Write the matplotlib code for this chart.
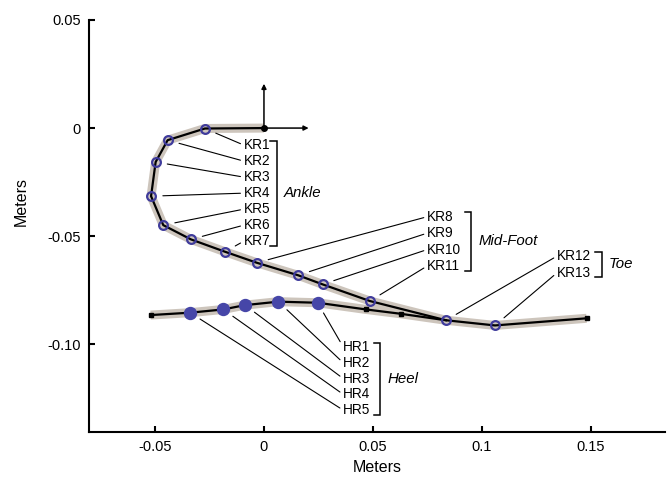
import matplotlib
matplotlib.use('Agg')
import matplotlib.pyplot as plt
import numpy as np

plt.rcParams['font.family'] = ['Liberation Sans', 'DejaVu Sans']

# ---------------- data (meters) ----------------
kr_labels = ['KR1', 'KR2', 'KR3', 'KR4', 'KR5', 'KR6', 'KR7',
             'KR8', 'KR9', 'KR10', 'KR11', 'KR12', 'KR13']
kr_x = [-0.0271, -0.0442, -0.0497, -0.0518, -0.0462, -0.0335, -0.0179,
        -0.0033, 0.0157, 0.0269, 0.0486, 0.0835, 0.1060]
kr_y = [-0.0002, -0.0056, -0.0157, -0.0315, -0.0449, -0.0515, -0.0572,
        -0.0623, -0.0681, -0.0723, -0.0800, -0.0889, -0.0913]

hr_labels = ['HR1', 'HR2', 'HR3', 'HR4', 'HR5']
hr_x = [0.0246, 0.0066, -0.0087, -0.0187, -0.0339]
hr_y = [-0.0808, -0.0803, -0.0819, -0.0839, -0.0854]

origin_x, origin_y = 0.0, 0.0
toe_end_x, toe_end_y = 0.148, -0.0880
heel_start_x, heel_start_y = -0.0520, -0.0865
heel_mid_x = [0.0468, 0.0627]
heel_mid_y = [-0.0839, -0.0859]

groups = ['Ankle', 'Mid-Foot', 'Toe', 'Heel']
group_members = [kr_labels[0:7], kr_labels[7:11], kr_labels[11:13], hr_labels]

x_ticks = [-0.05, 0, 0.05, 0.1, 0.15]
x_ticklabels = ['-0.05', '0', '0.05', '0.1', '0.15']
y_ticks = [0.05, 0, -0.05, -0.10]
y_ticklabels = ['0.05', '0', '-0.05', '-0.10']

# ---------------- layout / style ----------------
# label column anchors (left x, first y) and row step, bracket x
label_layout = {
    'Ankle':    dict(x=-0.0092, y0=-0.0079, step=-0.0074, bx=0.0058),
    'Mid-Foot': dict(x=0.0749, y0=-0.0410, step=-0.0076, bx=0.0950),
    'Toe':      dict(x=0.1345, y0=-0.0592, step=-0.0077, bx=0.1549),
    'Heel':     dict(x=0.0364, y0=-0.1013, step=-0.0073, bx=0.0532),
}
band_color = '#cdc5bc'
marker_color = '#3f3b9c'
arrow_len = 0.0205

fig = plt.figure(figsize=(6.67, 4.78), dpi=100)
ax = fig.add_axes([0.134, 0.0962, 0.863, 0.862])

ankle_px = [origin_x] + kr_x + [toe_end_x]
ankle_py = [origin_y] + kr_y + [toe_end_y]
heel_px = [heel_start_x] + hr_x[::-1] + heel_mid_x + [kr_x[11]]
heel_py = [heel_start_y] + hr_y[::-1] + heel_mid_y + [kr_y[11]]

for px, py in [(ankle_px, ankle_py), (heel_px, heel_py)]:
    ax.plot(px, py, color=band_color, lw=6.5, solid_capstyle='butt',
            solid_joinstyle='round', zorder=1)
for px, py in [(ankle_px, ankle_py), (heel_px, heel_py)]:
    ax.plot(px, py, color='black', lw=1.6, zorder=2)

# end squares
ax.plot([heel_start_x] + heel_mid_x + [toe_end_x],
        [heel_start_y] + heel_mid_y + [toe_end_y],
        's', ms=3.2, color='black', zorder=3, linestyle='none')

# origin and axes arrows
ax.plot([origin_x], [origin_y], 'o', ms=4, color='black', zorder=3)
for dx, dy in [(0, arrow_len), (arrow_len, 0)]:
    ax.annotate('', xy=(origin_x + dx, origin_y + dy), xytext=(origin_x, origin_y),
                arrowprops=dict(arrowstyle='-|>', lw=1.1, color='black',
                                mutation_scale=7, shrinkA=0, shrinkB=0), zorder=3)

# markers
ax.plot(kr_x, kr_y, 'o', ms=6.3, mfc='none', mec=marker_color, mew=1.6, zorder=4)
ax.plot(hr_x, hr_y, 'o', ms=8.6, color='#4646a8', zorder=4)

# labels with leader lines
pts = {}
for l, x, y in zip(kr_labels, kr_x, kr_y):
    pts[l] = (x, y)
for l, x, y in zip(hr_labels, hr_x, hr_y):
    pts[l] = (x, y)

for g, members in zip(groups, group_members):
    lay = label_layout[g]
    ys = []
    for i, lab in enumerate(members):
        ly = lay['y0'] + i * lay['step']
        ys.append(ly)
        ax.annotate(lab, xy=pts[lab], xytext=(lay['x'], ly), textcoords='data',
                    ha='left', va='center', fontsize=9.8,
                    arrowprops=dict(arrowstyle='-', lw=0.8, color='black',
                                    shrinkA=0.5, shrinkB=8.5, relpos=(0, 0.5)))
    top = max(ys) + 0.0021
    bot = min(ys) - 0.0021
    bx = lay['bx']
    tick = 0.0028
    ax.plot([bx - tick, bx, bx, bx - tick], [top, top, bot, bot],
            color='black', lw=1.1, solid_joinstyle='miter')
    ax.text(bx + 0.0033, np.mean(ys), g, ha='left', va='center',
            fontsize=10.8, style='italic')

# axes styling
ax.set_xlim(-0.0801, 0.184)
ax.set_ylim(-0.1406, 0.05)
ax.set_xticks(x_ticks)
ax.set_xticklabels(x_ticklabels)
ax.set_yticks(y_ticks)
ax.set_yticklabels(y_ticklabels)
for s in ['top', 'right']:
    ax.spines[s].set_visible(False)
for s in ['left', 'bottom']:
    ax.spines[s].set_linewidth(1.5)
ax.tick_params(direction='in', length=4, width=1.5, labelsize=10.5, pad=6)
ax.set_xlabel('Meters', fontsize=11.5, labelpad=4)
ax.set_ylabel('Meters', fontsize=11.5)
ax.yaxis.set_label_coords(-0.106, 0.56)

fig.savefig('out.png', dpi=100)
